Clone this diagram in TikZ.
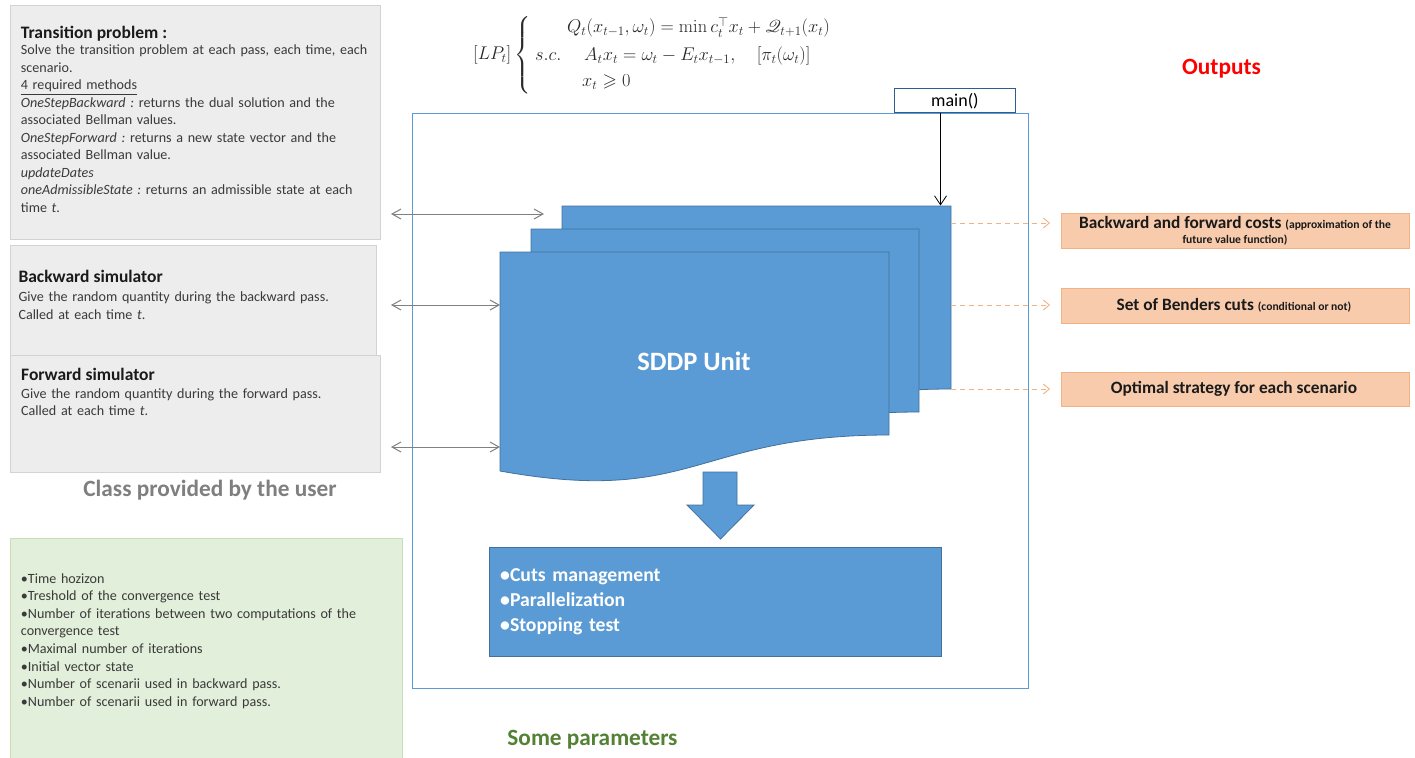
\RequirePackage{fix-cm}
\documentclass[tikz,border=0pt]{standalone}
\usepackage{amsmath,amssymb,mathrsfs}
\usepackage[no-math]{fontspec}
\setmainfont{Carlito}
\usetikzlibrary{arrows.meta}
\definecolor{boxfill}{HTML}{EDEDED}
\definecolor{boxline}{HTML}{D3D3D3}
\definecolor{titletext}{HTML}{1A1A1A}
\definecolor{bodytext}{HTML}{3A3A3A}
\definecolor{sddpblue}{HTML}{5B9BD5}
\definecolor{sddpline}{HTML}{41719C}
\definecolor{mainline}{HTML}{2E5E8E}
\definecolor{greenfill}{HTML}{E2EFDA}
\definecolor{greenline}{HTML}{C5E0B4}
\definecolor{orfill}{HTML}{F8CBAD}
\definecolor{orline}{HTML}{F4B183}
\definecolor{paramgreen}{HTML}{548235}
\definecolor{classgray}{HTML}{7F7F7F}
\definecolor{arrgray}{HTML}{808080}
\definecolor{mathtext}{HTML}{2A2A2A}
\newcommand\myBody{\fontsize{14.1}{17.5}\selectfont}
\newcommand\myTitle{\fontsize{17.5}{20}\selectfont\bfseries}
\tikzset{
  graybox/.style={draw=boxline, fill=boxfill, line width=0.8pt, inner sep=0pt, anchor=north west},
  greenbox/.style={draw=greenline, fill=greenfill, line width=0.8pt, inner sep=0pt, anchor=north west},
  outbox/.style={draw=orline, fill=orfill, line width=0.8pt, inner sep=0pt, anchor=north west, minimum width=348},
  titletxt/.style={inner sep=0pt, anchor=base west, text=titletext, font=\myTitle},
  bodytxt/.style={inner sep=0pt, anchor=base west, align=left, text=bodytext, font=\myBody, text width=#1},
  mathtxt/.style={inner sep=0pt, anchor=base west, text=mathtext, font=\fontsize{18.4}{27}\selectfont},
  sheetshape/.style={fill=sddpblue, draw=sddpline, line width=0.8pt},
  biarrow/.style={draw=arrgray, line width=1pt, {Straight Barb[length=9pt,width=10pt]}-{Straight Barb[length=9pt,width=10pt]}},
  outarrow/.style={draw=orline, line width=0.9pt, dash pattern=on 5pt off 4pt, -{Straight Barb[length=6pt,width=10pt]}},
  mainarrow/.style={draw=black, line width=0.8pt, -{Straight Barb[length=9pt,width=12pt]}},
  outtxt/.style={inner sep=0pt, anchor=base, text=titletext, align=flush center, font=\fontsize{17.3}{15}\selectfont\bfseries},
  labeltxt/.style={inner sep=0pt, anchor=base, font=\fontsize{23.3}{26}\selectfont\bfseries},
}
\newcommand\mySheet[3]{%
  \draw[sheetshape] (#1,#2) -- ({#1+#3},#2) -- ({#1+#3},{#2+183})
    .. controls ({#1+#3/2},{#2+183}) and ({#1+#3/2},{#2+254}) .. (#1,{#2+219}) -- cycle;}
\begin{document}
\frenchspacing
\begin{tikzpicture}[x=1pt,y=-1pt]
\useasboundingbox (0,0) rectangle (1415,757);
\fill[white] (0,0) rectangle (1415,757);

% ---------------- left column ----------------
\node[graybox, minimum width=370, minimum height=234] (trans) at (10,5) {};
\node[graybox, minimum width=366, minimum height=110] (bsim) at (10,245) {};
\node[graybox, minimum width=370, minimum height=117] (fsim) at (10,355) {};

\node[titletxt] (transT) at (20.7,38.5) {Transition problem :};
\node[bodytxt=370] (transB) at (20.7,55) {Solve the transition problem at each pass, each time, each\\
scenario.\\
\underline{4 required methods}\\
\textit{OneStepBackward :} returns the dual solution and the\\
associated Bellman values.\\
\textit{OneStepForward :} returns a new state vector and the\\
associated Bellman value.\\
\textit{updateDates}\\
\textit{oneAdmissibleState :} returns an admissible state at each\\
time \textit{t}.};

\node[titletxt] (bsimT) at (18.3,282.7) {Backward simulator};
\node[bodytxt=355] (bsimB) at (18.3,301.7) {Give the random quantity during the backward pass.\\
Called at each time \textit{t}.};

\node[titletxt] (fsimT) at (21,380) {Forward simulator};
\node[bodytxt=355] (fsimB) at (21,398.3) {Give the random quantity during the forward pass.\\
Called at each time \textit{t}.};

\node[labeltxt, text=classgray] (classlbl) at (210,496.7) {Class provided by the user};

\node[greenbox, minimum width=392, minimum height=225] (params) at (10,538.3) {};
\node[bodytxt=380, font=\fontsize{14.1}{17.55}\selectfont] (paramsB) at (20.7,583.3) {•Time hozizon\\
•Treshold of the convergence test\\
•Number of iterations between two computations of the\\
convergence test\\
•Maximal number of iterations\\
•Initial vector state\\
•Number of scenarii used in backward pass.\\
•Number of scenarii used in forward pass.};

\node[labeltxt, text=paramgreen] (paramlbl) at (592.5,745) {Some parameters};

% ---------------- formula ----------------
\node[mathtxt] (lp) at (473,60) {$[LP_t]$};
\node[inner sep=0pt, anchor=west, text=mathtext, font=\fontsize{18.4}{27}\selectfont] (brace) at (514.5,55) {$\left\{\vcenter{\hrule height 72pt width 0pt}\right.\kern-\nulldelimiterspace$};
\node[mathtxt] (eq1) at (567,33) {$Q_t(x_{t-1},\omega_t) = \min c_t^{\top} x_t + \mathscr{Q}_{t+1}(x_t)$};
\node[mathtxt] (sc) at (535,61) {$s.c.$};
\node[mathtxt] (eq2) at (584,61) {$A_t x_t = \omega_t - E_t x_{t-1}, \quad [\pi_t(\omega_t)]$};
\node[mathtxt] (eq3) at (582,86.5) {$x_t \geqslant 0$};

% ---------------- central frame ----------------
\node[draw=sddpblue, line width=1pt, minimum width=616, minimum height=574, inner sep=0pt, anchor=north west] (frame) at (412,113.5) {};

\node[draw=mainline, fill=white, line width=0.9pt, minimum width=121, minimum height=24, inner sep=0pt, anchor=north west, font=\fontsize{18}{20}\selectfont] (main) at (894,88.5) {main()};

\mySheet{562}{206}{389}
\mySheet{531}{229}{388}
\mySheet{500}{252}{389}
\node[inner sep=0pt, anchor=base, text=white, font=\fontsize{26.5}{30}\selectfont\bfseries] (sddp) at (694,370) {SDDP Unit};

\coordinate (sheetTop) at (940.5,205.5);
\coordinate (frontLeft) at (500,252);
\coordinate (backRight) at (951,206);

\draw[mainarrow] (main.south -| sheetTop) -- (sheetTop);

% block arrow and tasks box
\draw[fill=sddpblue, draw=sddpline, line width=0.8pt] (703,472) -- (737,472) -- (737,505) -- (754,505) -- (720.5,539) -- (687,505) -- (703,505) -- cycle;
\node[fill=sddpblue, draw=sddpline, line width=0.8pt, minimum width=452, minimum height=109, inner sep=0pt, anchor=north west] (tasks) at (489,547) {};
\node[inner sep=0pt, anchor=base west, align=left, text width=300, text=white, font=\fontsize{19.7}{25}\selectfont\bfseries] (tasksT) at (500,581.7) {•Cuts management\\
•Parallelization\\
•Stopping test};

% ---------------- arrows to user classes ----------------
\coordinate (a1s) at (391,214);
\coordinate (a1e) at (544,214);
\coordinate (a2s) at (391,305);
\coordinate (a3s) at (391,447);
\draw[biarrow] (a1s) -- (a1e);
\draw[biarrow] (a2s) -- (a2s -| frontLeft);
\draw[biarrow] (a3s) -- (a3s -| frontLeft);

% ---------------- outputs ----------------
\node[labeltxt, text=red] (outlbl) at (1221.5,75) {Outputs};

\node[outbox, minimum height=35] (out1) at (1061,213) {};
\node[outbox, minimum height=35] (out2) at (1061,288) {};
\node[outbox, minimum height=34] (out3) at (1061,372) {};

\node[outtxt, text width=345] (out1T) at (1235,228.3) {Backward and forward costs {\fontsize{11.6}{15}\selectfont (approximation of the\\ future value function)}};
\node[outtxt] (out2T) at (1234,310.7) {Set of Benders cuts {\fontsize{11.6}{13}\selectfont (conditional or not)}};
\node[outtxt] (out3T) at (1234,393.3) {Optimal strategy for each scenario};

\coordinate (o1e) at (1050,223);
\coordinate (o2e) at (1050,305);
\coordinate (o3e) at (1050,389);
\draw[outarrow] (o1e -| backRight) -- (o1e);
\draw[outarrow] (o2e -| backRight) -- (o2e);
\draw[outarrow] (o3e -| backRight) -- (o3e);
\end{tikzpicture}
\end{document}
